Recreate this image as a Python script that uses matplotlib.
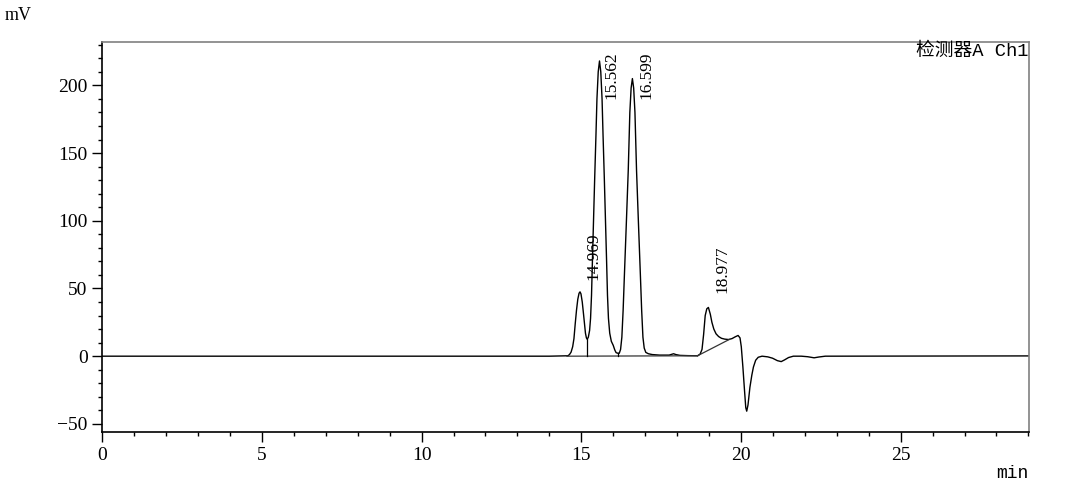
import matplotlib
matplotlib.use("Agg")
import matplotlib.pyplot as plt
from matplotlib.ticker import MultipleLocator

# chromatogram trace (min, mV)
time_min = [
    0.0, 14.0, 14.58, 14.63, 14.68, 14.73, 14.77, 14.81, 14.85, 14.89, 14.93,
    14.96, 14.99, 15.03, 15.07, 15.10, 15.13, 15.16, 15.185, 15.22, 15.26,
    15.29, 15.32, 15.35, 15.385, 15.42, 15.46, 15.49, 15.53, 15.57, 15.61,
    15.65, 15.68, 15.72, 15.755, 15.79, 15.82, 15.85, 15.89, 15.94, 16.00,
    16.05, 16.09, 16.14, 16.19, 16.23, 16.27, 16.31, 16.35, 16.41, 16.47,
    16.52, 16.56, 16.60, 16.64, 16.68, 16.73, 16.79, 16.85, 16.89, 16.93,
    16.97, 17.02, 17.10, 17.22, 17.45, 17.75, 17.82, 17.89, 17.96, 18.09,
    18.34, 18.64, 18.72, 18.78, 18.83, 18.88, 18.93, 18.98, 19.04, 19.09,
    19.15, 19.22, 19.30, 19.39, 19.49, 19.61, 19.72, 19.82, 19.91, 19.97,
    20.01, 20.06, 20.11, 20.15, 20.18, 20.22, 20.28, 20.34, 20.39, 20.46,
    20.54, 20.66, 20.84, 20.99, 21.14, 21.26, 21.36, 21.49, 21.64, 21.89,
    22.09, 22.29, 22.44, 22.64, 29.02,
]
signal_mv = [
    0.0, 0.0, 0.3, 1.2, 3.0, 7.0, 13.0, 24.0, 34.0, 42.0, 46.5,
    47.5, 46.0, 40.0, 31.0, 24.0, 17.0, 13.5, 12.5, 14.0, 19.0,
    28.0, 45.0, 72.0, 102.0, 132.0, 164.0, 190.0, 210.0, 218.0, 210.0,
    190.0, 164.0, 132.0, 102.0, 72.0, 45.0, 28.0, 17.0, 11.0, 8.0,
    4.5, 2.6, 2.2, 2.2, 5.0, 14.0, 34.0, 60.0, 98.0, 137.0,
    180.0, 198.0, 205.0, 198.0, 180.0, 137.0, 98.0, 60.0, 34.0, 14.0,
    6.0, 2.8, 1.8, 1.2, 0.8, 0.8, 1.3, 1.8, 1.2, 0.6,
    0.4, 0.3, 1.5, 5.0, 16.0, 30.0, 35.0, 36.0, 31.0, 25.0,
    20.0, 16.5, 14.5, 13.2, 12.6, 12.3, 13.0, 14.3, 15.3, 13.5,
    7.0, -8.0, -25.0, -38.0, -40.6, -36.0, -23.0, -14.0, -8.0, -3.0,
    -0.8, 0.0, -0.5, -1.5, -3.3, -4.0, -2.8, -1.0, 0.0, 0.0,
    -0.4, -1.2, -0.6, 0.0, 0.2,
]

# integration baselines and drop lines
base_t = [[14.55, 18.64], [18.64, 19.63]]
base_v = [[0.0, 0.3], [0.3, 12.3]]
drop_t = [15.185, 16.14]
drop_v = [12.5, 2.2]

peak_labels = ["14.969", "15.562", "16.599", "18.977"]
label_pos = [(15.37, 56), (15.95, 190), (17.03, 190), (19.41, 47)]

serif = "Liberation Serif"

fig = plt.figure(figsize=(10.8, 4.84), dpi=100)
ax = fig.add_axes([0.0947, 0.1074, 0.8581, 0.8058])

ax.plot(time_min, signal_mv, color="black", lw=1.0)
for t, v in zip(base_t, base_v):
    ax.plot(t, v, color="#333333", lw=0.9)
for t, v in zip(drop_t, drop_v):
    ax.plot([t, t], [0, v], color="black", lw=0.9)

for txt, (x, y) in zip(peak_labels, label_pos):
    ax.text(x, y, txt, rotation=90, ha="center", va="bottom",
            fontsize=12.5, family=serif)

ax.set_xlim(0, 29.02)
ax.set_ylim(-56, 232)
ax.xaxis.set_major_locator(MultipleLocator(5))
ax.xaxis.set_minor_locator(MultipleLocator(1))
ax.yaxis.set_major_locator(MultipleLocator(50))
ax.yaxis.set_minor_locator(MultipleLocator(10))
ax.tick_params(which="major", direction="out", length=7.5, width=1.0,
               labelsize=14, pad=3)
ax.tick_params(which="minor", direction="out", length=3.2, width=1.0)
for lab in ax.get_xticklabels() + ax.get_yticklabels():
    lab.set_family(serif)

for side in ("top", "right"):
    ax.spines[side].set_color("#808080")
    ax.spines[side].set_linewidth(1.2)
for side in ("left", "bottom"):
    ax.spines[side].set_linewidth(1.2)

ax.text(0.999, 0.998, "检测器A Ch1", transform=ax.transAxes, ha="right", va="top",
        fontsize=13.5, family=["Liberation Mono", "Noto Sans CJK SC"])
fig.text(0.004, 0.985, "mV", ha="left", va="top", fontsize=13, family=serif)
fig.text(0.952, 0.005, "min", ha="right", va="bottom", fontsize=13,
         family="Liberation Mono")

fig.savefig("out.png", dpi=100)
